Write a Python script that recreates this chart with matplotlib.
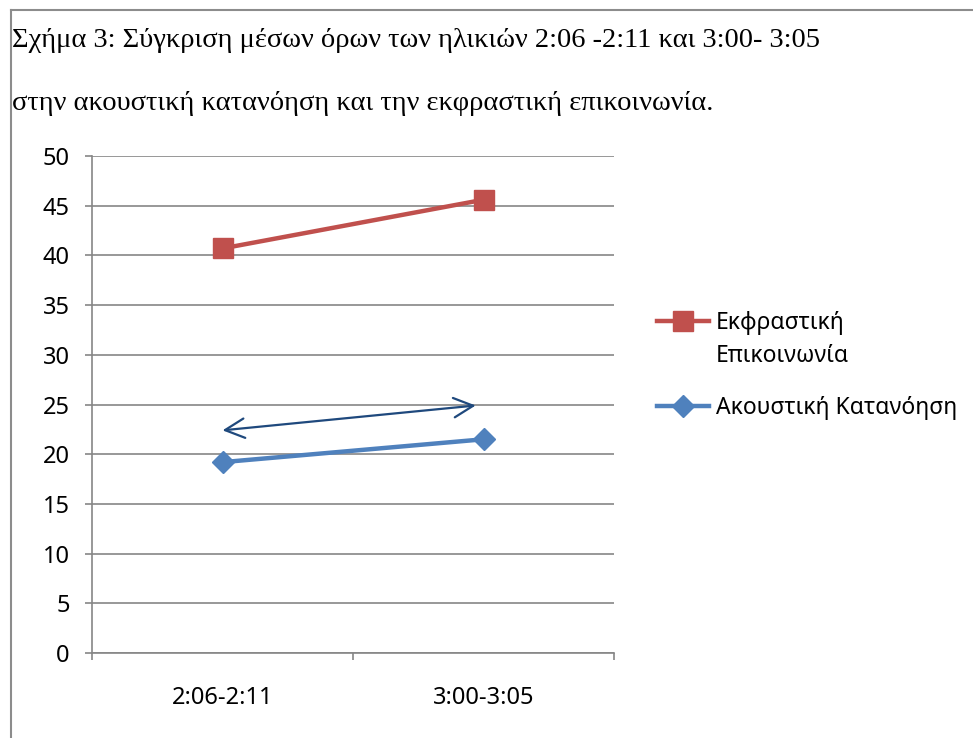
import matplotlib
matplotlib.use("Agg")
import matplotlib.pyplot as plt
import matplotlib.font_manager as fm
from matplotlib.lines import Line2D

# data
categories = ["2:06-2:11", "3:00-3:05"]
ekfrastiki = [40.7, 45.6]
akoustiki = [19.2, 21.5]
yticks = [0, 5, 10, 15, 20, 25, 30, 35, 40, 45, 50]
arrow_left = (0.0, 22.4)
arrow_right = (0.97, 24.9)

title1 = "Σχήμα 3: Σύγκριση μέσων όρων των ηλικιών 2:06 -2:11 και 3:00- 3:05"
title2 = "στην ακουστική κατανόηση και την εκφραστική επικοινωνία."
label_red = "Εκφραστική"
label_red2 = "Επικοινωνία"
label_blue = "Ακουστική Κατανόηση"

names = {f.name for f in fm.fontManager.ttflist}
sans = "Liberation Sans Narrow" if "Liberation Sans Narrow" in names else "Noto Sans"
plt.rcParams["font.family"] = [sans, "DejaVu Sans"]

red = "#C0504D"
blue = "#4F81BD"
grid_c = "#868686"

fig = plt.figure(figsize=(9.73, 7.38), dpi=100)
ax = fig.add_axes([92/973, 1-653/738, 522/973, 497/738])

x = range(len(categories))
ax.plot(x, ekfrastiki, color=red, lw=3.2, marker="s", ms=14, label=label_red, zorder=3)
ax.plot(x, akoustiki, color=blue, lw=3.2, marker="D", ms=11, label=label_blue, zorder=3)

ax.annotate("", xy=arrow_right, xytext=arrow_left,
            arrowprops=dict(arrowstyle="<->,head_length=0.7,head_width=0.35",
                            color="#1F497D", lw=1.6, shrinkA=0, shrinkB=0,
                            mutation_scale=20))

ax.set_xlim(-0.5, 1.5)
ax.set_ylim(0, 50)
ax.set_yticks(yticks)
ax.set_xticks([-0.5, 0.5, 1.5])
ax.set_xticklabels([])
ax.set_xticks(list(x), minor=True)
ax.set_xticklabels(categories, minor=True)
ax.tick_params(axis="x", which="minor", length=0, pad=24, labelsize=17)
ax.tick_params(axis="x", which="major", length=5, color=grid_c, width=1.2)
ax.tick_params(axis="y", length=5, color=grid_c, width=1.2, pad=11, labelsize=17)
ax.yaxis.grid(True, color=grid_c, lw=1.2)
ax.set_axisbelow(True)
for s in ["top", "right"]:
    ax.spines[s].set_visible(False)
for s in ["left", "bottom"]:
    ax.spines[s].set_color(grid_c)
    ax.spines[s].set_linewidth(1.2)

leg = ax.legend(loc="upper left", bbox_to_anchor=(636/973, 1-290/738),
                bbox_transform=fig.transFigure, frameon=False, fontsize=16.5,
                handlelength=2.3, handletextpad=0.3, labelspacing=2.7)

# second line of the red legend label, under the first one
fig.canvas.draw()
bb = leg.get_texts()[0].get_window_extent()
fig.text(bb.x0 / 973, (bb.y0 + bb.y1) / 2 / 738 - 33/738, label_red2,
         fontsize=16.5, va="center", ha="left")

# title in serif
fig.text(12/973, 1-47/738, title1, family="Liberation Serif", fontsize=20.5, va="baseline")
fig.text(12/973, 1-110/738, title2, family="Liberation Serif", fontsize=20.5, va="baseline")

# frame border of the original picture
fig.add_artist(Line2D([11/973, 1], [1-10/738, 1-10/738], color="#8c8c8c", lw=1.5))
fig.add_artist(Line2D([11/973, 11/973], [0, 1-10/738], color="#8c8c8c", lw=1.5))

fig.savefig("out.png", dpi=100)
